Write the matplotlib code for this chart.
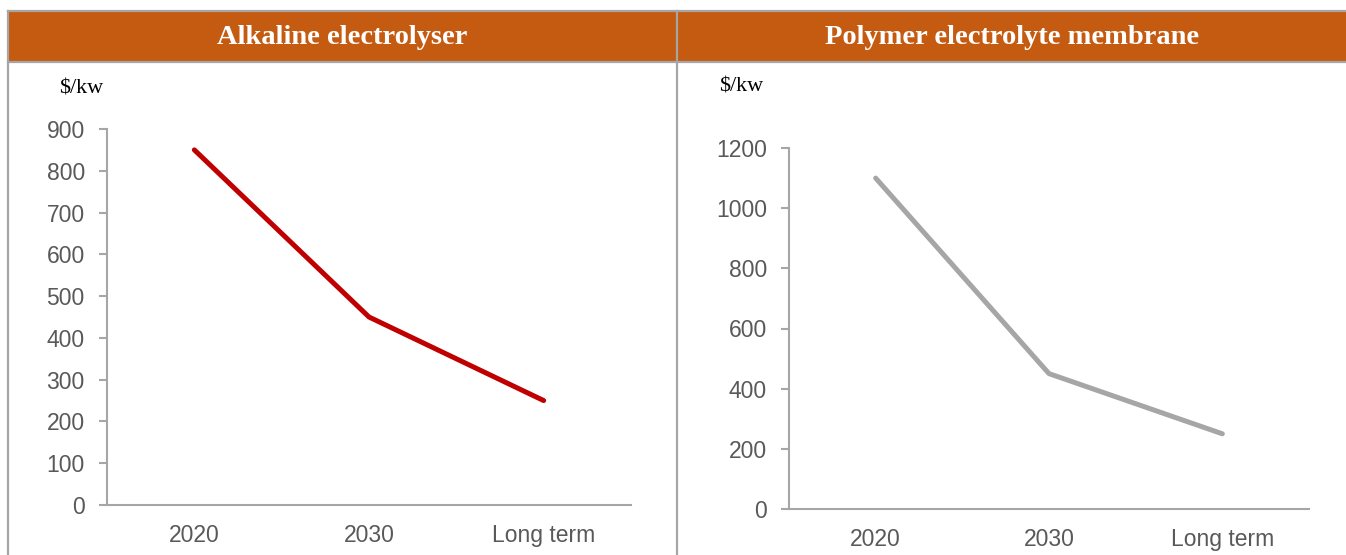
import matplotlib
matplotlib.use("Agg")
import matplotlib.pyplot as plt
from matplotlib.lines import Line2D
from matplotlib.patches import Rectangle

# data
categories = ["2020", "2030", "Long term"]
alkaline = [850, 450, 250]
pem = [1100, 450, 250]
titles = ["Alkaline electrolyser", "Polymer electrolyte membrane"]
unit = "$/kw"

W, H = 1346, 555
ORANGE = "#C55A11"
GRID = "#A6A6A6"
TXT = "#595959"


def fx(px):
    return px / W


def fy(py):
    return 1 - py / H


fig = plt.figure(figsize=(W / 100, H / 100), dpi=100)

# header bands and table frame
fig.add_artist(Rectangle((fx(8), fy(62)), fx(1346 - 8), (62 - 11) / H,
                         transform=fig.transFigure, facecolor=ORANGE, edgecolor="none"))
for xs, ys in [([8, 1346], [11, 11]), ([8, 1346], [62, 62]),
               ([8, 8], [11, 555]), ([677, 677], [11, 555])]:
    fig.add_artist(Line2D([fx(x) for x in xs], [fy(y) for y in ys],
                          transform=fig.transFigure, color=GRID, lw=1.6))

fig.text(fx(342), fy(38), titles[0], ha="center", va="center", color="white",
         fontsize=20.5, fontweight="bold", family="Liberation Serif")
fig.text(fx(1012), fy(38), titles[1], ha="center", va="center", color="white",
         fontsize=20.5, fontweight="bold", family="Liberation Serif")
fig.text(fx(59), fy(89), unit, ha="left", va="center", color="black",
         fontsize=16, family="Liberation Serif")
fig.text(fx(719), fy(87), unit, ha="left", va="center", color="black",
         fontsize=16, family="Liberation Serif")


def make_axes(rect, values, color, ymax, step):
    ax = fig.add_axes(rect)
    x = list(range(len(categories)))
    ax.plot(x, values, color=color, lw=3.6, solid_capstyle="round")
    ax.set_xlim(-0.5, len(categories) - 0.5)
    ax.set_ylim(0, ymax)
    ax.set_yticks(range(0, ymax + 1, step))
    ax.set_xticks(x)
    ax.set_xticklabels(categories)
    for s in ["top", "right"]:
        ax.spines[s].set_visible(False)
    for s in ["left", "bottom"]:
        ax.spines[s].set_color(GRID)
        ax.spines[s].set_linewidth(1.5)
    ax.tick_params(axis="y", length=6, width=1.5, color=GRID, direction="out",
                   labelsize=16.5, labelcolor=TXT, pad=10)
    ax.tick_params(axis="x", length=0, labelsize=16.5, labelcolor=TXT, pad=14)
    for lab in ax.get_xticklabels() + ax.get_yticklabels():
        lab.set_family("Liberation Sans")
    ax.patch.set_alpha(0)
    return ax


make_axes([fx(107), fy(505), fx(631 - 107), (505 - 129) / H], alkaline, "#C00000", 900, 100)
make_axes([fx(789), fy(509), fx(1309 - 789), (509 - 148) / H], pem, "#A6A6A6", 1200, 200)

fig.savefig("out.png", dpi=100)
